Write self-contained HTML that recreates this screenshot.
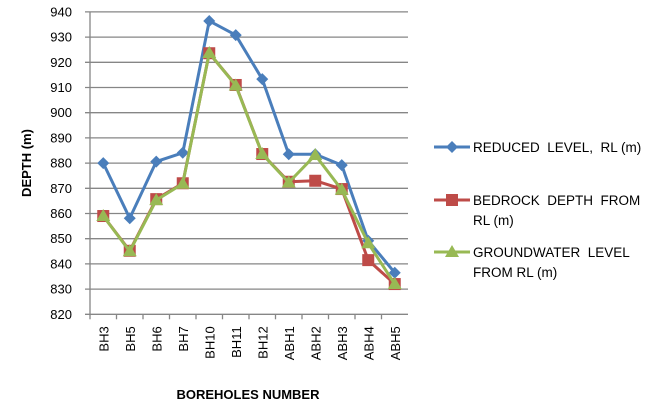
<!DOCTYPE html>
<html><head><meta charset="utf-8"><style>
body{margin:0;background:#fff;width:651px;height:407px;overflow:hidden}
svg text{font-family:"Liberation Sans",sans-serif;fill:#000}
</style></head><body>
<svg id="c" width="651" height="407"></svg>
<script>
const categories=["BH3","BH5","BH6","BH7","BH10","BH11","BH12","ABH1","ABH2","ABH3","ABH4","ABH5"];
const reducedLevel=[880,858.1,880.6,884.1,936.4,930.8,913.3,883.5,883.5,879.2,849.2,836.5];
const bedrockDepth=[859,845.2,865.7,872,923.6,911,883.6,872.6,873,869.7,841.5,832];
const groundwater=[859,845,865.3,871.8,923.7,910.8,883.6,872.3,883.2,869.4,848.2,832];
const yTicks=[820,830,840,850,860,870,880,890,900,910,920,930,940];
const NS="http://www.w3.org/2000/svg";
const svg=document.getElementById('c');
const X0=90,STEP=26.5,Y0=314.3,YMIN=820,PX=2.52;
function xs(i){return X0+STEP*(i+0.5);}
function ys(v){return Y0-(v-YMIN)*PX;}
function mk(t,a,p){const e=document.createElementNS(NS,t);for(const k in a)e.setAttribute(k,a[k]);(p||svg).appendChild(e);return e;}
yTicks.forEach(v=>{
 const g=mk('line',{x1:85,x2:408,y1:ys(v),y2:ys(v),stroke:'#868686','stroke-width':1.3});
 
 
 const t=mk('text',{x:72,y:ys(v)+4.5,'text-anchor':'end','font-size':13});
 t.textContent=v;
 
 
});
const ax=mk('line',{x1:90,x2:90,y1:ys(940),y2:Y0+1,stroke:'#868686','stroke-width':1.3});


categories.forEach((c,i)=>{
 const tk=mk('line',{x1:X0+STEP*i,x2:X0+STEP*i,y1:Y0,y2:Y0+5,stroke:'#868686','stroke-width':1.3});
 
 
 const t=mk('text',{x:0,y:0,'text-anchor':'end','font-size':13,transform:`translate(${xs(i)+5},${Y0+12}) rotate(-90)`});
 t.textContent=c;
 
 
});
const yt=mk('text',{x:0,y:0,'text-anchor':'middle','font-size':13,'font-weight':'bold',transform:'translate(31,163) rotate(-90)'});
yt.textContent='DEPTH (m)';


const xt=mk('text',{x:248,y:399,'text-anchor':'middle','font-size':13,'font-weight':'bold'});
xt.textContent='BOREHOLES NUMBER';


function marker(type,x,y,col,p){
 let e;
 if(type==='d')e=mk('polygon',{points:`${x},${y-6} ${x+6},${y} ${x},${y+6} ${x-6},${y}`,fill:col},p);
 else if(type==='s')e=mk('rect',{x:x-6,y:y-6,width:12,height:12,fill:col},p);
 else e=mk('polygon',{points:`${x},${y-7} ${x+7},${y+5} ${x-7},${y+5}`,fill:col},p);
 return e;
}
const series=[
 {name:'reduced-level',vals:reducedLevel,col:'#4A7EBB',m:'d'},
 {name:'bedrock-depth',vals:bedrockDepth,col:'#BE4B48',m:'s'},
 {name:'groundwater-level',vals:groundwater,col:'#98B954',m:'t'}];
series.forEach(s=>{
 const g=mk('g',{});
 
 
 const l=mk('polyline',{points:s.vals.map((v,i)=>xs(i)+','+ys(v)).join(' '),fill:'none',stroke:s.col,'stroke-width':3,'stroke-linejoin':'round'},g);
 
 
 s.vals.forEach((v,i)=>{
  const p=marker(s.m,xs(i),ys(v),s.col,g);
  
  
 });
});
const legend=[
 {s:series[0],lines:['REDUCED  LEVEL,  RL (m)'],y:147},
 {s:series[1],lines:['BEDROCK  DEPTH  FROM','RL (m)'],y:200},
 {s:series[2],lines:['GROUNDWATER  LEVEL','FROM RL (m)'],y:252}];
legend.forEach(L=>{
 const g=mk('g',{});
 
 
 mk('line',{x1:434,x2:470,y1:L.y,y2:L.y,stroke:L.s.col,'stroke-width':3},g);
 marker(L.s.m,452,L.y,L.s.col,g);
 L.lines.forEach((tx,k)=>{
  const t=mk('text',{x:473,y:L.y+5+k*20,'font-size':13.5,'xml:space':'preserve'},g);
  t.setAttribute('style','white-space:pre');
  t.textContent=tx;
 });
});
</script>
</body></html>
